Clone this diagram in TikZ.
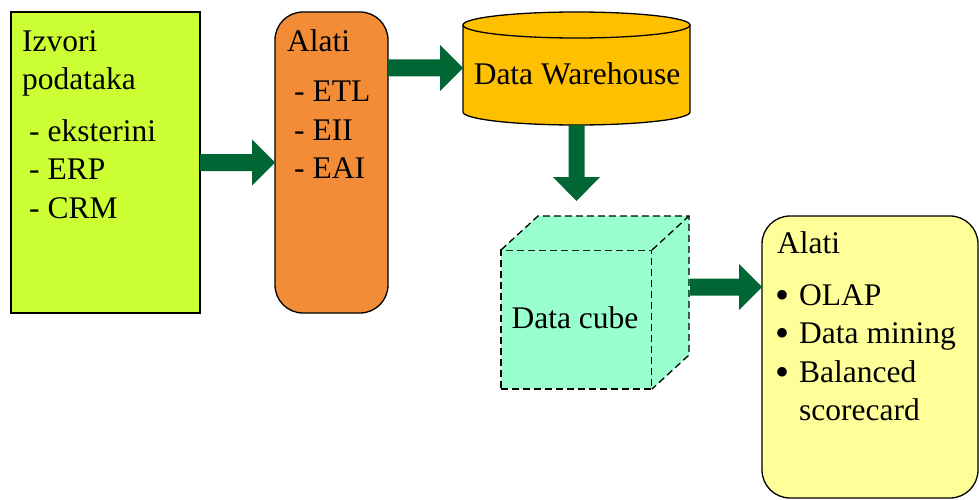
\documentclass[tikz,border=0pt]{standalone}
\usepackage{fontspec}
\setmainfont{Liberation Serif}
\newfontfamily\timesfont{Liberation Serif}
\usetikzlibrary{calc}
\definecolor{cGreen}{HTML}{CCFF33}
\definecolor{cOrange}{HTML}{F28C36}
\definecolor{cGold}{HTML}{FFC000}
\definecolor{cMint}{HTML}{99FFCC}
\definecolor{cYellow}{HTML}{FFFF99}
\definecolor{cArrow}{HTML}{006633}
\newcommand\harrow[2]{\fill[cArrow] let \p1=#1, \p2=#2 in
  (\x1,{\y1+8.5pt}) -- ({\x2-23pt},{\y1+8.5pt}) -- ({\x2-23pt},{\y1+23pt}) -- (\x2,\y1)
  -- ({\x2-23pt},{\y1-23pt}) -- ({\x2-23pt},{\y1-8.5pt}) -- (\x1,{\y1-8.5pt}) -- cycle;}
\newcommand\varrow[2]{\fill[cArrow] let \p1=#1, \p2=#2 in
  ({\x1-8pt},\y1) -- ({\x1-8pt},{\y2+24pt}) -- ({\x1-23.5pt},{\y2+24pt}) -- (\x1,\y2)
  -- ({\x1+23.5pt},{\y2+24pt}) -- ({\x1+8pt},{\y2+24pt}) -- ({\x1+8pt},\y1) -- cycle;}
\begin{document}
\begin{tikzpicture}[x=1pt,y=-1pt,
  box/.style={draw=black, line width=1.3pt, inner sep=0pt, outer sep=0pt, anchor=north west},
  txt/.style={anchor=base west, inner sep=0pt, font=\timesfont\fontsize{31.5}{38}\selectfont},
  ctxt/.style={anchor=base, inner sep=0pt, font=\timesfont\fontsize{31.5}{38}\selectfont},
  bul/.style={anchor=base west, inner sep=0pt, font=\timesfont\fontsize{40}{40}\selectfont},
  cubedash/.style={draw=black, line width=1.3pt, dash pattern=on 7pt off 4pt},
]
\useasboundingbox (0,0) rectangle (979,500);
% source box
\node[box, fill=cGreen, minimum width=189pt, minimum height=301pt] (src) at (11,12) {};
\node[txt] (s1) at (22,52) {Izvori};
\node[txt] (s2) at (22,90) {podataka};
\node[txt] (s3) at (29,141) {- eksterini};
\node[txt] (s4) at (29,179) {- ERP};
\node[txt] (s5) at (29,218) {- CRM};
% tools box
\node[box, fill=cOrange, rounded corners=28pt, minimum width=113pt, minimum height=301pt] (etl) at (275,12) {};
\node[txt] (e1) at (287,52) {Alati};
\node[txt] (e2) at (294,102) {- ETL};
\node[txt] (e3) at (294,140) {- EII};
\node[txt] (e4) at (294,178) {- EAI};
% data warehouse cylinder
\node[inner sep=0pt, outer sep=0pt, anchor=north west, minimum width=227pt, minimum height=113pt] (dw) at (463,12) {};
\fill[cGold] (463,25) -- (463,112) arc[start angle=180, end angle=0, x radius=113.5, y radius=13] -- (690,25) -- cycle;
\draw[line width=1.3pt] (463,25) -- (463,112) arc[start angle=180, end angle=0, x radius=113.5, y radius=13] -- (690,25);
\draw[line width=1.3pt, fill=cGold] (576.5,25) ellipse[x radius=113.5, y radius=13];
\node[ctxt] (dwt) at (577,85) {Data Warehouse};
% data cube
\node[box, cubedash, fill=cMint, minimum width=151pt, minimum height=139pt] (cube) at (501,250) {};
\fill[cMint] (cube.north west) -- ++(37,-34) -- ++(151,0) -- ++(0,139) -- (cube.south east) -- (cube.north east) -- cycle;
\draw[cubedash] (cube.north west) -- ++(37,-34) -- ++(151,0) -- ++(0,139) -- (cube.south east);
\draw[cubedash] (cube.north east) -- ++(37,-34);
\node[ctxt] (cubet) at (575,328) {Data cube};
% analysis tools box
\node[box, fill=cYellow, rounded corners=28pt, minimum width=216pt, minimum height=282pt] (ana) at (762,216) {};
\node[txt] (a1) at (777,253) {Alati};
\node[bul] (b1) at (775,308) {•};
\node[txt] (a2) at (799,305) {OLAP};
\node[bul] (b2) at (775,346) {•};
\node[txt] (a3) at (799,343) {Data mining};
\node[bul] (b3) at (775,385) {•};
\node[txt] (a4) at (799,382) {Balanced};
\node[txt] (a5) at (799,420) {scorecard};
% arrows
\coordinate (dwend) at (577,201);
\harrow{(src.east)}{(etl.west)}
\harrow{($(etl.north east)+(0,56)$)}{(dw.west)}
\varrow{(dw.south)}{(dwend)}
\harrow{($(cube.north east)+(38,37)$)}{(ana.west)}
\end{tikzpicture}
\end{document}
